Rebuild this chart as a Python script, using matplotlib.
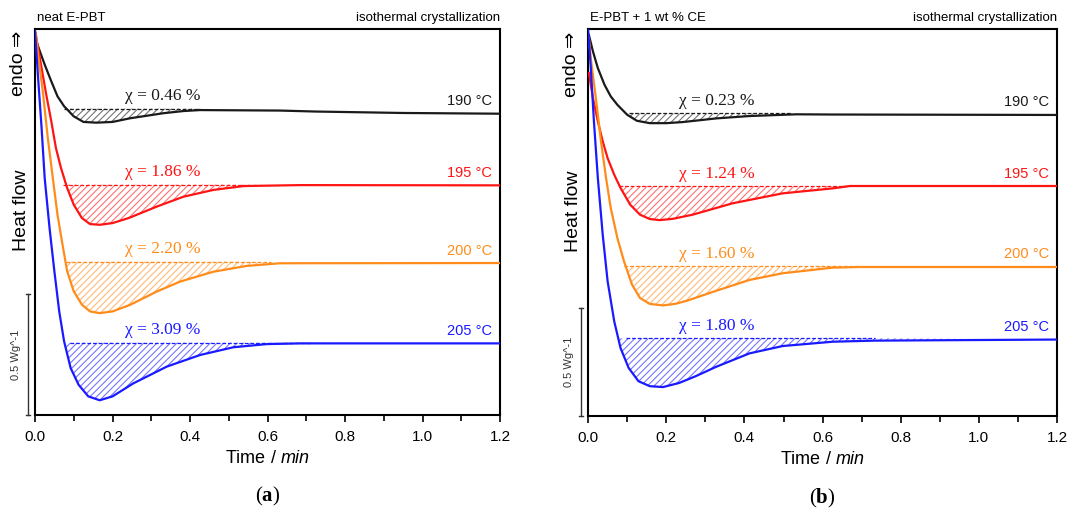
import numpy as np
import matplotlib
matplotlib.use("Agg")
import matplotlib.pyplot as plt
import matplotlib.transforms as mtransforms

plt.rcParams['font.family'] = ['Liberation Sans', 'DejaVu Sans']
plt.rcParams['mathtext.fontset'] = 'custom'
plt.rcParams['mathtext.rm'] = 'Liberation Serif'
plt.rcParams['mathtext.bf'] = 'Liberation Serif:bold'
plt.rcParams['mathtext.it'] = 'Liberation Sans:italic'
plt.rcParams['hatch.linewidth'] = 0.8

temps = ["190 °C", "195 °C", "200 °C", "205 °C"]
colors = ["#1a1a1a", "#ff1414", "#ff8c1a", "#1a1aff"]

# ---- neat E-PBT: time (min) / heat flow (W/g, stacked offsets) ----
a_black_t = [0.002, 0.0125, 0.025, 0.042, 0.058, 0.075, 0.100, 0.125, 0.158, 0.200, 0.245, 0.331, 0.383, 0.426, 0.632, 0.723, 0.950, 1.200]
a_black_y = [1.551, 1.503, 1.448, 1.379, 1.317, 1.276, 1.234, 1.211, 1.208, 1.211, 1.226, 1.247, 1.256, 1.260, 1.258, 1.254, 1.248, 1.245]
a_red_t = [0.002, 0.017, 0.029, 0.042, 0.054, 0.067, 0.083, 0.100, 0.121, 0.142, 0.167, 0.200, 0.242, 0.314, 0.383, 0.460, 0.538, 0.684, 1.200]
a_red_y = [1.571, 1.434, 1.324, 1.214, 1.103, 1.021, 0.938, 0.869, 0.814, 0.789, 0.786, 0.793, 0.814, 0.861, 0.902, 0.930, 0.946, 0.950, 0.949]
a_orange_t = [0.002, 0.008, 0.021, 0.033, 0.046, 0.058, 0.071, 0.083, 0.100, 0.121, 0.142, 0.167, 0.200, 0.245, 0.314, 0.374, 0.460, 0.546, 0.632, 1.200]
a_orange_y = [1.580, 1.489, 1.324, 1.145, 0.979, 0.828, 0.704, 0.594, 0.511, 0.456, 0.428, 0.421, 0.428, 0.455, 0.510, 0.551, 0.592, 0.616, 0.627, 0.628]
a_blue_t = [0.0, 0.008, 0.017, 0.025, 0.0375, 0.050, 0.0625, 0.075, 0.092, 0.1125, 0.1375, 0.167, 0.200, 0.254, 0.340, 0.426, 0.512, 0.598, 0.684, 1.200]
a_blue_y = [1.587, 1.393, 1.186, 0.979, 0.773, 0.594, 0.428, 0.305, 0.194, 0.125, 0.077, 0.061, 0.077, 0.131, 0.200, 0.248, 0.280, 0.293, 0.296, 0.296]
a_base_y = [1.266, 0.952, 0.634, 0.299]
a_base_t0 = [0.075, 0.071, 0.080, 0.090]
a_base_t1 = [0.426, 0.542, 0.610, 0.710]
a_chi = ["χ = 0.46 %", "χ = 1.86 %", "χ = 2.20 %", "χ = 3.09 %"]

# ---- E-PBT + 1 wt % CE ----
b_black_t = [0.002, 0.0125, 0.025, 0.042, 0.058, 0.075, 0.100, 0.125, 0.158, 0.200, 0.242, 0.328, 0.413, 0.533, 0.626, 1.200]
b_black_y = [1.765, 1.688, 1.611, 1.534, 1.480, 1.441, 1.395, 1.367, 1.356, 1.356, 1.361, 1.378, 1.389, 1.397, 1.396, 1.394]
b_red_t = [0.002, 0.0125, 0.025, 0.0375, 0.050, 0.067, 0.083, 0.108, 0.133, 0.158, 0.183, 0.217, 0.267, 0.370, 0.498, 0.626, 0.670, 1.200]
b_red_y = [1.588, 1.472, 1.364, 1.272, 1.194, 1.117, 1.056, 0.978, 0.932, 0.912, 0.907, 0.913, 0.932, 0.985, 1.031, 1.054, 1.065, 1.065]
b_orange_t = [0.002, 0.008, 0.021, 0.033, 0.046, 0.058, 0.075, 0.092, 0.1125, 0.133, 0.158, 0.192, 0.225, 0.255, 0.328, 0.413, 0.498, 0.626, 0.695, 1.200]
b_orange_y = [1.750, 1.642, 1.457, 1.272, 1.102, 0.963, 0.824, 0.716, 0.608, 0.546, 0.519, 0.512, 0.520, 0.535, 0.580, 0.630, 0.661, 0.687, 0.690, 0.690]
b_blue_t = [0.0, 0.007, 0.015, 0.025, 0.0375, 0.050, 0.067, 0.083, 0.104, 0.129, 0.158, 0.192, 0.233, 0.275, 0.328, 0.413, 0.498, 0.626, 0.734, 1.200]
b_blue_y = [1.792, 1.611, 1.364, 1.102, 0.839, 0.624, 0.438, 0.315, 0.222, 0.161, 0.138, 0.134, 0.153, 0.184, 0.228, 0.290, 0.324, 0.344, 0.349, 0.354]
b_base_y = [1.401, 1.065, 0.694, 0.360]
b_base_t0 = [0.106, 0.080, 0.093, 0.097]
b_base_t1 = [0.520, 0.670, 0.695, 0.734]
b_chi = ["χ = 0.23 %", "χ = 1.24 %", "χ = 1.60 %", "χ = 1.80 %"]

panels = [
    dict(curves=[(a_black_t, a_black_y), (a_red_t, a_red_y), (a_orange_t, a_orange_y), (a_blue_t, a_blue_y)],
         base=a_base_y, t0=a_base_t0, t1=a_base_t1, chi=a_chi, ytop=1.595,
         title="neat E-PBT", tag="a", rect=[0.0322, 0.1957, 0.4278, 0.7481]),
    dict(curves=[(b_black_t, b_black_y), (b_red_t, b_red_y), (b_orange_t, b_orange_y), (b_blue_t, b_blue_y)],
         base=b_base_y, t0=b_base_t0, t1=b_base_t1, chi=b_chi, ytop=1.792,
         title="E-PBT + 1 wt % CE", tag="b", rect=[0.5410, 0.1938, 0.4315, 0.7500]),
]

fig = plt.figure(figsize=(10.87, 5.16), dpi=100)

for p in panels:
    ax = fig.add_axes(p["rect"])
    for i, (t, y) in enumerate(p["curves"]):
        t = np.array(t)
        y = np.array(y)
        c = colors[i]
        b = p["base"][i]
        ax.plot(t, y, color=c, lw=1.6, zorder=3)
        ax.plot([p["t0"][i], p["t1"][i]], [b, b], color=c, lw=0.9, ls=(0, (3, 1.5)), zorder=2)
        mask = (t >= p["t0"][i] - 0.03) & (t <= p["t1"][i])
        ax.fill_between(t, y, b, where=mask & (y <= b), interpolate=True,
                        facecolor="none", edgecolor=c, alpha=0.6, hatch="/////", lw=0)
        ax.annotate(p["chi"][i], xy=(0.33, b), xytext=(0, 9), textcoords="offset points",
                    ha="center", va="center", color=c, fontsize=12.5,
                    family=["Liberation Serif", "DejaVu Serif"])
        ax.annotate(temps[i], xy=(1.18, y[-1]), xytext=(0, 9), textcoords="offset points",
                    ha="right", va="center", color=c, fontsize=10.5)

    ax.set_xlim(0, 1.2)
    ax.set_ylim(0, p["ytop"])
    ax.set_xticks(np.arange(0, 1.21, 0.2))
    ax.set_xticks(np.arange(0.1, 1.2, 0.2), minor=True)
    ax.set_xticklabels([f"{v:.1f}" for v in np.arange(0, 1.21, 0.2)], fontsize=11)
    ax.set_yticks([])
    ax.tick_params(axis="x", which="major", direction="out", length=5, width=1.2, pad=6)
    ax.tick_params(axis="x", which="minor", direction="out", length=4, width=1.2)
    for s in ax.spines.values():
        s.set_linewidth(1.5)
    ax.set_xlabel(r"Time / $\mathit{min}$", fontsize=13, labelpad=4)

    ax.text(0.005, 1.012, p["title"], transform=ax.transAxes, ha="left", va="bottom", fontsize=9.5)
    ax.text(1.0, 1.012, "isothermal crystallization", transform=ax.transAxes,
            ha="right", va="bottom", fontsize=9.5)

    # 0.5 W/g scale bar left of the frame
    tr = mtransforms.blended_transform_factory(ax.transAxes, ax.transData)
    ax.plot([-0.015, -0.015], [0.0, 0.5], color="#333333", lw=1.0, transform=tr, clip_on=False)
    for yy in (0.0, 0.5):
        ax.plot([-0.019, -0.011], [yy, yy], color="#333333", lw=1.0, transform=tr, clip_on=False)
    ax.text(-0.04, 0.25, "0.5 Wg^-1", transform=tr, rotation=90, ha="center", va="center",
            fontsize=8, color="#333333")
    ax.text(-0.03, 0.53, "Heat flow", transform=ax.transAxes, rotation=90,
            ha="center", va="center", fontsize=14)
    ax.text(-0.036, 0.91, "endo ⇒", transform=ax.transAxes, rotation=90,
            ha="center", va="center", fontsize=14)

    ax.text(0.5, -0.212, r"$\mathrm{(}\mathbf{%s}\mathrm{)}$" % p["tag"], transform=ax.transAxes,
            ha="center", va="center", fontsize=15)

fig.savefig("out.png", dpi=100)
